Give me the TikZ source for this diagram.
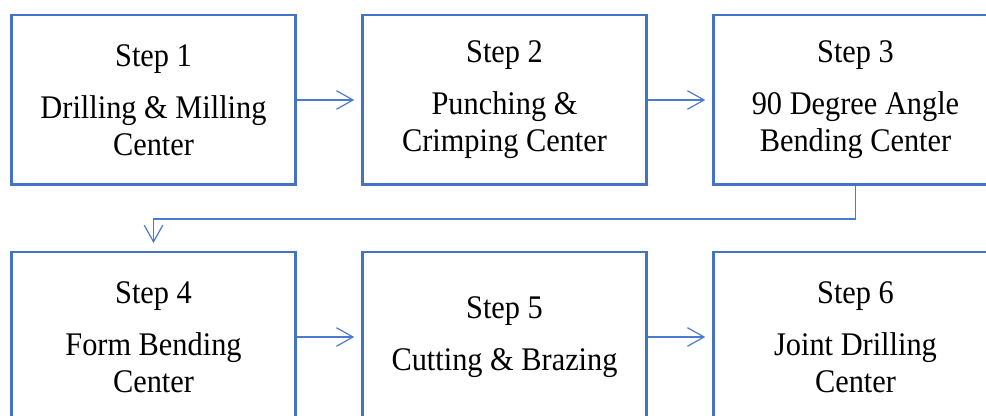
\documentclass[tikz,border=0pt]{standalone}
\usepackage{fontspec}
\setmainfont{Liberation Serif}[FakeStretch=0.92]
\usetikzlibrary{arrows.meta}
\definecolor{FlowBlue}{HTML}{4472C4}
\definecolor{FlowArrow}{HTML}{4A7BD0}

\begin{document}
\begin{tikzpicture}[x=0.5pt,y=-0.5pt,
  stepbox/.style={draw=FlowBlue,line width=1.25pt,minimum width=142pt,
    minimum height=84.75pt,inner sep=0pt,align=center,
    font=\fontsize{16.5}{18.5}\selectfont},
  flow/.style={draw=FlowArrow,line width=0.6pt,shorten >=3.5pt,
    -{Straight Barb[length=8.3pt,width=9.3pt]}}]
  \useasboundingbox (0,0) rectangle (986,416);
  \clip (0,0) rectangle (986,416);
  \node[stepbox] (s1) at (153.5,100) {Step 1\\[7.5pt]Drilling \& Milling\\Center};
  \node[stepbox] (s2) at (504.5,100) {Step 2\\[7.5pt]Punching \&\\Crimping Center};
  \node[stepbox] (s3) at (855.5,100) {Step 3\\[7.5pt]90 Degree Angle\\Bending Center};
  \node[stepbox] (s4) at (153.5,337) {Step 4\\[7.5pt]Form Bending\\Center};
  \node[stepbox] (s5) at (504.5,337) {Step 5\\[7.5pt]Cutting \& Brazing};
  \node[stepbox] (s6) at (855.5,337) {Step 6\\[7.5pt]Joint Drilling\\Center};
  \draw[flow] (s1) -- (s2);
  \draw[flow] (s2) -- (s3);
  \draw[flow,shorten >=4pt] (s3.south) -- ++(0,33) -| (s4.north);
  \draw[flow] (s4) -- (s5);
  \draw[flow] (s5) -- (s6);
\end{tikzpicture}
\end{document}
